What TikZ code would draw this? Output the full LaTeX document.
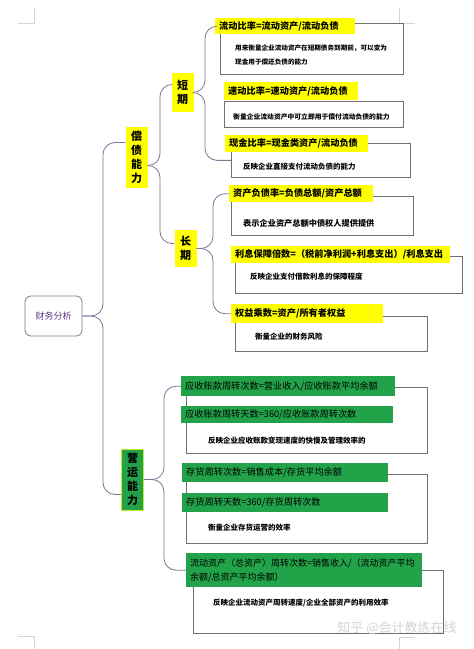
\documentclass[tikz,border=0pt]{standalone}
\usepackage{fontspec}
\setmainfont{Noto Sans CJK SC}
\usetikzlibrary{shapes,calc}

\definecolor{yel}{RGB}{255,255,0}
\definecolor{grn}{RGB}{34,163,73}
\definecolor{grnedge}{RGB}{205,232,40}
\definecolor{linec}{RGB}{128,114,152}
\definecolor{boxc}{RGB}{112,112,112}
\definecolor{rootc}{RGB}{92,52,132}
\definecolor{markc}{RGB}{212,212,212}

\tikzset{
  branch/.style={draw=linec,line width=0.8pt,rounded corners=12pt},
  rootbox/.style={shape=rectangle,draw=linec,line width=0.8pt,rounded corners=6pt,text=rootc,minimum width=57pt,minimum height=40pt,font=\fontsize{9}{11}\selectfont},
  vbox/.style={shape=rectangle,fill=yel,align=center,inner sep=0pt,minimum width=22pt,font=\fontsize{11}{14}\selectfont\bfseries},
  ylab/.style={shape=rectangle,fill=yel,anchor=north west,inner xsep=4pt,inner ysep=2pt,align=left,font=\fontsize{9.2}{12}\selectfont\bfseries},
  glab/.style={shape=rectangle,fill=grn,anchor=north west,inner xsep=4pt,inner ysep=2pt,align=left,font=\fontsize{9.2}{13}\selectfont},
  notebox/.style={shape=rectangle,draw=boxc,line width=0.7pt,anchor=north west,inner sep=0pt},
  notetext/.style={anchor=west,inner sep=0pt,align=left,font=\fontsize{7.5}{15}\selectfont\bfseries},
}

\begin{document}
\begin{tikzpicture}[x=1pt,y=-1pt]
\useasboundingbox (0,0) rectangle (474,649);

% page marks
\draw[markc,line width=0.6pt] (18,23) -- (34,23) -- (34,8);
\draw[markc,line width=0.6pt] (399,8) -- (399,23) -- (415,23);
\draw[markc,line width=0.6pt] (18,636) -- (34,636) -- (34,649);
\draw[markc,line width=0.6pt] (399,649) -- (399,637) -- (415,637);

% boxes behind the labels
\node[notebox,minimum width=183pt,minimum height=51pt] (b1) at (220,23) {};
\node[notebox,minimum width=179pt,minimum height=26pt] (b2) at (224,101) {};
\node[notebox,minimum width=179pt,minimum height=34pt] (b3) at (231,143) {};
\node[notebox,minimum width=182pt,minimum height=39pt] (b4) at (231,196) {};
\node[notebox,minimum width=227pt,minimum height=37pt] (b5) at (235,256) {};
\node[notebox,minimum width=192pt,minimum height=35pt] (b6) at (235,316) {};
\node[notebox,minimum width=241pt,minimum height=66pt] (b7) at (186,387) {};
\node[notebox,minimum width=241pt,minimum height=69pt] (b9) at (186,474) {};
\node[notebox,minimum width=250pt,minimum height=63pt] (b11) at (193,570) {};

% main nodes
\node[rootbox] (root) at (53.5,316) {财务分析};
\node[vbox,minimum height=61pt] (cd) at (136.5,157.5) {偿\\债\\能\\力};
\node[vbox,minimum height=39pt] (dq) at (182.5,92.5) {短\\期};
\node[vbox,minimum height=37pt] (cq) at (185.5,248.5) {长\\期};
\node[vbox,fill=grn,draw=grnedge,line width=0.8pt,minimum height=61pt] (yy) at (132.5,479.5) {营\\运\\能\\力};

% yellow formulas
\node[ylab,text width=132pt,minimum height=16pt] (l1) at (215,18) {流动比率=流动资产/流动负债};
\node[ylab,text width=126pt,minimum height=18pt] (l2) at (224,82) {速动比率=速动资产/流动负债};
\node[ylab,text width=135pt,minimum height=17pt] (l3) at (225,135) {现金比率=现金类资产/流动负债};
\node[ylab,text width=136pt,minimum height=17pt] (l4) at (229,185) {资产负债率=负债总额/资产总额};
\node[ylab,text width=211pt,minimum height=17pt] (l5) at (231,246) {利息保障倍数=（税前净利润+利息支出）/利息支出};
\node[ylab,text width=144pt,minimum height=19pt] (l6) at (231,304) {权益乘数=资产/所有者权益};

% green formulas
\node[glab,text width=206pt,minimum height=20pt] (g7) at (181,376) {应收账款周转次数=营业收入/应收账款平均余额};
\node[glab,text width=204pt,minimum height=17pt] (g8) at (181,406) {应收账款周转天数=360/应收账款周转次数};
\node[glab,text width=198pt,minimum height=19pt] (g9) at (182,463) {存货周转次数=销售成本/存货平均余额};
\node[glab,text width=198pt,minimum height=19pt] (g10) at (182,493) {存货周转天数=360/存货周转次数};
\node[glab,text width=228pt,minimum height=34pt,font=\fontsize{9}{14}\selectfont] (g11) at (186,553) {流动资产（总资产）周转次数=销售收入/（流动资产平均\\余额/总资产平均余额）};

% notes
\node[notetext,font=\fontsize{6.6}{14.5}\selectfont\bfseries] (t1) at (235,55) {用来衡量企业流动资产在短期债务到期前，可以变为\\现金用于偿还负债的能力};
\node[notetext,font=\fontsize{6.8}{9}\selectfont\bfseries] (t2) at (233,117) {衡量企业流动资产中可立即用于偿付流动负债的能力};
\node[notetext] (t3) at (243,167) {反映企业直接支付流动负债的能力};
\node[notetext,font=\fontsize{8.2}{10}\selectfont\bfseries] (t4) at (243,223) {表示企业资产总额中债权人提供提供};
\node[notetext] (t5) at (250,277) {反映企业支付借款利息的保障程度};
\node[notetext] (t6) at (255,337) {衡量企业的财务风险};
\node[notetext] (t7) at (208,441) {反映企业应收账款变现速度的快慢及管理效率的};
\node[notetext] (t9) at (208,528) {衡量企业存货运营的效率};
\node[notetext] (t11) at (213,603) {反映企业流动资产周转速度/企业全部资产的利用效率};

% branches
\draw[branch] (root.east) -| (103,230) |- ([yshift=15pt]cd.west);
\draw[branch] (root.east) -| (103,400) |- ([yshift=-15pt]yy.west);
\draw[branch] ([yshift=-8pt]cd.east) -| (160,120) |- ([yshift=8pt]dq.west);
\draw[branch] ([yshift=-8pt]cd.east) -| (160,200) |- ([yshift=5pt]cq.west);
\draw[branch] (dq.east) -| (205,60) |- (l1.west);
\draw[branch] (dq.east) -| (205,130) |- (b3.west);
\draw[branch] (cq.east) -| (213,220) |- (l4.west);
\draw[branch] (cq.east) -| (213,280) |- (l6.west);
\draw[branch] (yy.east) -| (164,430) |- (g7.west);
\draw[branch] (yy.east) -| (164,530) |- (g11.west);

% watermark
\node[text=markc,font=\fontsize{13}{15}\selectfont] (wm) at (397,628) {知乎 @会计教练在线};
\end{tikzpicture}
\end{document}
